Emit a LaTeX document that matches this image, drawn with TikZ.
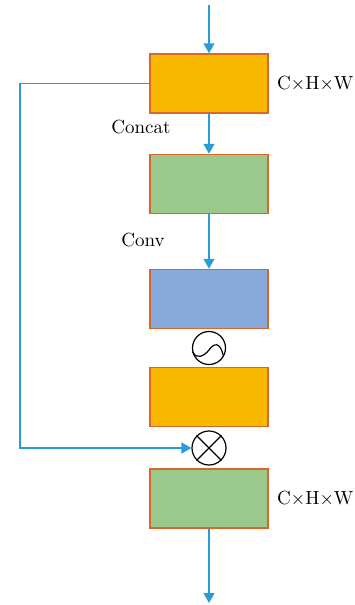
\documentclass[tikz,border=0pt]{standalone}
\usepackage{amsmath}
\usepackage{xcolor}
\usepackage{tikz}
\usetikzlibrary{positioning}
\usetikzlibrary{arrows.meta}

\definecolor{boxorange}{RGB}{249,184,0}
\definecolor{boxgreen}{RGB}{155,201,139}
\definecolor{boxblue}{RGB}{135,170,218}
\definecolor{boxedge}{RGB}{214,104,44}
\definecolor{flowblue}{RGB}{40,156,216}

\tikzset{
  block/.style={draw=boxedge, line width=0.75pt, rectangle, inner sep=0pt,
    minimum width=59pt, minimum height=29.5pt},
  flow/.style={draw=flowblue, line width=0.75pt, -{Triangle[length=5pt,width=5.5pt]}},
  opcircle/.style={draw, circle, line width=0.6pt, inner sep=0pt, minimum size=#1},
  dimlabel/.style={font=\fontsize{9.5}{11}\selectfont, inner sep=0pt}
}

\begin{document}
\begin{tikzpicture}[x=0.5pt,y=-0.5pt]
            \useasboundingbox (0,0) rectangle (354,605);
            % main column of blocks
            \node[block, fill=boxorange] (b1) at (209,83.5){};
            \node[block, fill=boxgreen] (b2) at (209,184){};
            \node[block, fill=boxblue] (b3) at (209,299){};
            \node[opcircle=16.5pt] (sig) at (209,348){};
            \node[block, fill=boxorange] (b4) at (209,397){};
            \node[opcircle=17pt] (mul) at (209,448){};
            \node[block, fill=boxgreen] (b5) at (209,498.5){};
            % sigmoid and product symbols
            \begin{scope}[shift={(sig.center)}]
              \draw[line width=0.6pt] (-16.3,4) .. controls (-12,12) and (-5,8) .. (0,2) .. controls (5,-5) and (11,-7) .. (14.5,8.5);
            \end{scope}
            \draw[line width=0.6pt] (mul.north west) -- (mul.south east);
            \draw[line width=0.6pt] (mul.north east) -- (mul.south west);
            % labels
            \node[dimlabel, right=4pt of b1] (d1){C$\times$H$\times$W};
            \node[dimlabel, right=4pt of b5] (d5){C$\times$H$\times$W};
            \node[dimlabel] (cat) at (141,127){Concat};
            \node[dimlabel] (cv) at (143,240){Conv};
            % connectors
            \coordinate (in) at (209,5);
            \coordinate (out) at (209,603);
            \coordinate (fb) at (20,448);
            \draw[flow] (in) -- (b1.north);
            \draw[flow] (b1.south) -- (b2.north);
            \draw[flow] (b2.south) -- (b3.north);
            \draw[flow] (b1.west) -| (fb) -- (mul.west);
            \draw[flow] (b5.south) -- (out);
        \end{tikzpicture}
\end{document}
